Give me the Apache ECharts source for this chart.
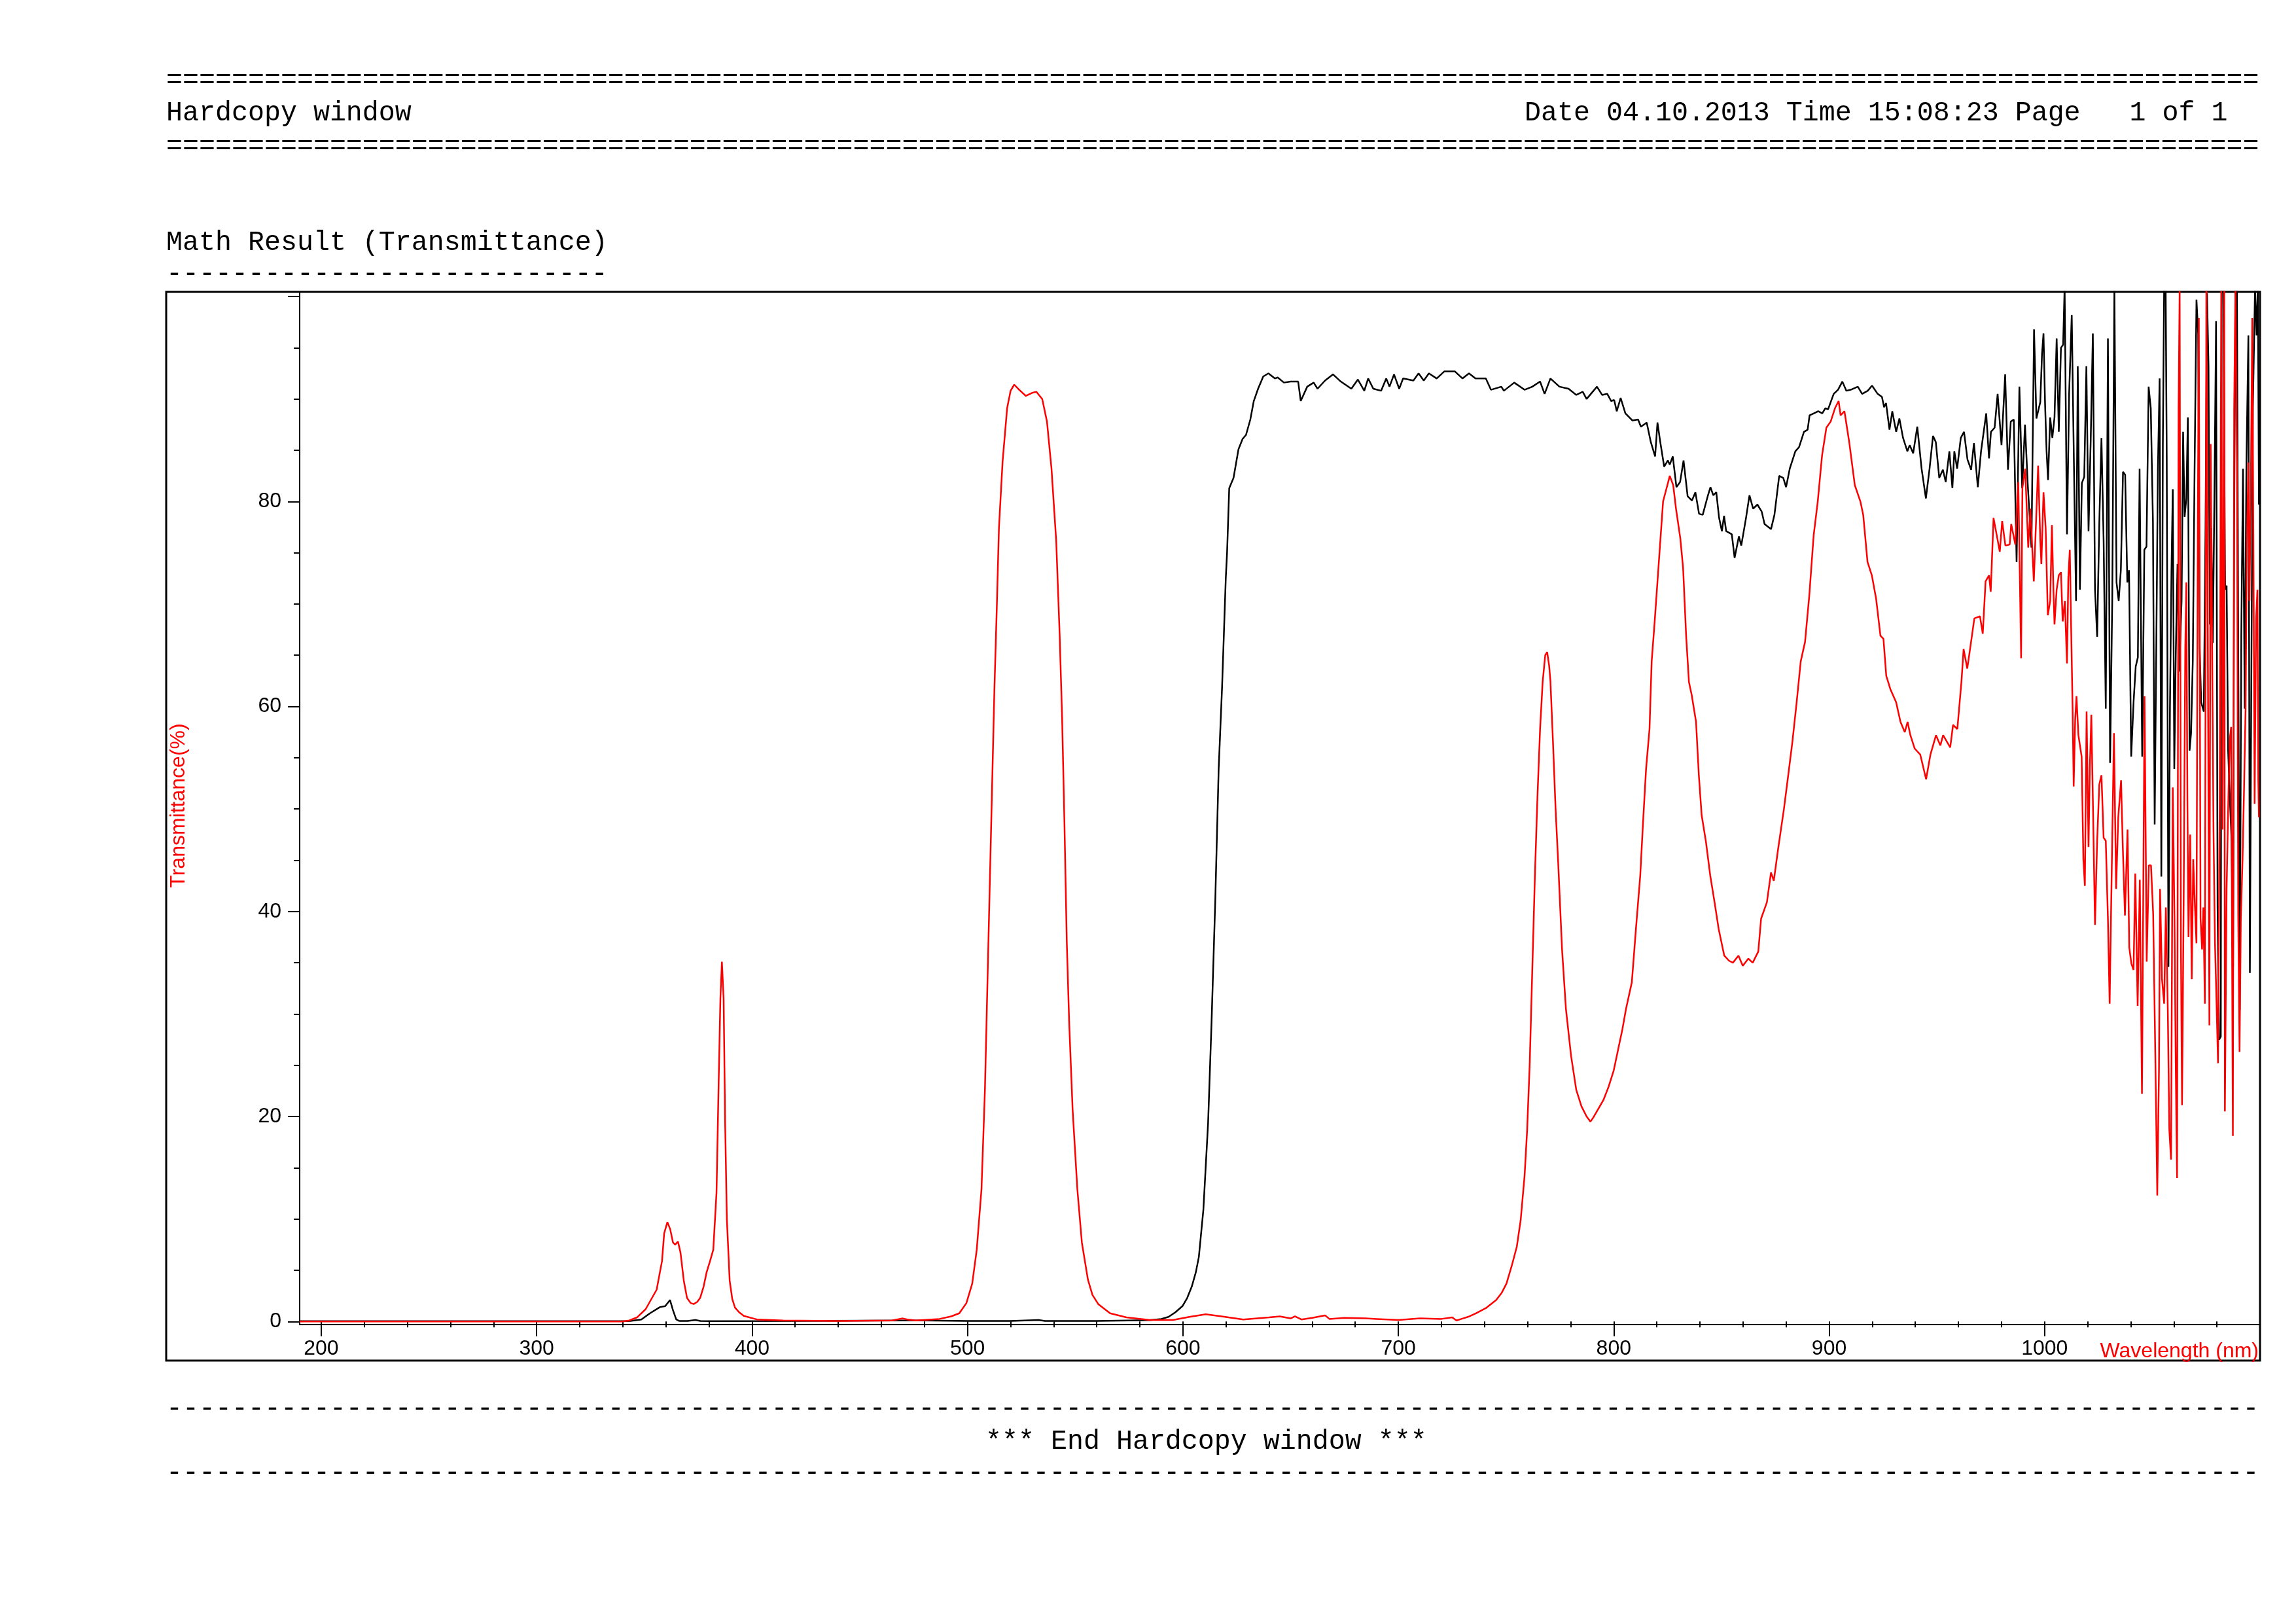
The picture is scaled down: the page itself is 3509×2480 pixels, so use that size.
<!DOCTYPE html>
<html>
<head>
<meta charset="utf-8">
<title>Math Result (Transmittance)</title>
<script src="https://cdn.jsdelivr.net/npm/echarts@6.0.0/dist/echarts.min.js"></script>
<style>
  html, body { margin: 0; padding: 0; background: #fff; }
  #chart { width: 3509px; height: 2480px; }
</style>
</head>
<body>
<div id="chart"></div>
<script>
// black trace (wavelength nm / transmittance %)
var blackNm = [190, 300, 340, 343.5, 348.6, 352.6, 357.2, 359.7, 361.9, 363.3, 364.8, 366.3, 370, 373.7, 376, 380, 420, 470, 480, 500, 520, 533, 536, 560,
  584.6, 590, 593.3, 596.5, 599.8, 602, 604.1, 606, 607.4, 609.5, 611.7, 613.3, 615, 616.6, 618.2, 619.9, 620.5, 621.5, 623.5, 625.8, 627.7, 629.3, 631.3, 632.9, 634.9, 637.3, 639.7, 642.7, 644, 646.9, 650, 653.5, 654.7, 657.7, 660.7, 662.5, 666, 669.7, 673.3, 678.2, 681.2, 684.2, 686, 688.4, 692, 694.4, 695.9, 698, 700.4, 702.2, 707, 709.4, 711.8, 714.2, 717.8, 721.4, 726.2, 729.8, 732.8, 735.8, 740.6, 743, 747.8, 749, 753.8, 758.6, 762.2, 765.8, 767.9, 770.6, 774.8, 779, 782.6, 785.6, 787.4, 792.2, 794.6, 797, 798.8,
  800.2, 801.4, 803.2, 805.4, 808.7, 811.3, 812.6, 815.3, 817.2, 819.2, 820.3, 821.6, 823.4, 825.1, 826, 827.4, 829.1, 830.8, 832.4, 834.3, 836.3, 837.9, 839.6, 841.3, 843.6, 844.9, 846.2, 847.6, 848.9, 850.2, 851.2, 852.2, 854.8, 856.1, 858.1, 859.2, 861.4, 863, 864.7, 866.7, 868.7, 870, 873, 874.6, 876.8, 878.7, 880, 881.7, 884.3, 886, 888.3, 890, 890.9, 892.9, 894.9, 896.8, 898.2, 899.5,
  902.1, 904.1, 906.1, 908, 910, 913.3, 915.3, 917.9, 919.9, 922.5, 924.5, 925.5, 926.4, 928, 929.3, 931.1, 932.6, 934.3, 936.3, 937.4, 939, 940.9, 942.9, 944.9, 946.6, 948.2, 949.5, 951.1, 952.8, 954.1, 955.8, 957.2, 958.1, 959.4, 961.1, 962.6, 964.2, 965.9, 967.2, 969, 970.5, 972.9, 974.2, 975.1, 976.8, 978.2, 980, 981.7, 983, 984.3, 985.7, 987, 988.3, 989.6, 990.9, 992.2, 993.9, 995.1, 996.2, 998, 998.8, 999.5,
  1000.2, 1000.9, 1001.6, 1002.6, 1003.6, 1004.6, 1005.6, 1006.6, 1007.6, 1008.6, 1009.3, 1009.9, 1010.4, 1011.4, 1012.6, 1013.6, 1014.6, 1015.4, 1016.4, 1017.3, 1018.4, 1019.4, 1020.4, 1021.4, 1022.4, 1023.4, 1024.4, 1025.4, 1026.4, 1027.4, 1028.4, 1029.4, 1030.4, 1031.4, 1032.4, 1033.4, 1034.4, 1035.4, 1036.4, 1037.4, 1038.4, 1039.2, 1040.2, 1041.3, 1042.3, 1043.3, 1044.1, 1045.3, 1046.3, 1047.3, 1048.3, 1049.3,
  1050.3, 1051.1, 1051.8, 1052.6, 1053.4, 1054.2, 1054.9, 1055.5, 1056.2, 1056.7, 1057.5, 1058.2, 1058.9, 1059.5, 1060.2, 1060.9, 1061.7, 1062.5, 1063.6, 1064.3, 1065, 1065.8, 1066.5, 1067.3, 1068, 1068.8, 1069.6, 1070.5, 1071.3, 1072, 1072.7, 1073.9, 1074.7, 1075.4, 1076.1, 1076.7, 1077.4, 1078.1, 1078.9, 1079.6, 1080.3, 1081, 1081.8, 1082.2, 1083, 1083.8, 1084.5, 1085.2, 1086, 1086.8, 1087.5, 1088, 1088.6, 1089.3, 1089.9, 1090.6, 1091.3, 1092.1, 1092.9, 1093.7, 1094.6, 1095.3, 1095.9, 1096.7, 1097.7, 1098.4, 1099, 1099.5];
var blackT = [0.03, 0.03, 0.03, 0.05, 0.2, 0.8, 1.4, 1.5, 2.1, 1.1, 0.2, 0.05, 0.05, 0.15, 0.05, 0.03, 0.05, 0.1, 0.1, 0.05, 0.05, 0.15, 0.05, 0.05,
  0.13, 0.25, 0.45, 0.9, 1.5, 2.3, 3.4, 4.8, 6.3, 10.9, 19.4, 29.2, 40.9, 53.9, 62, 72.5, 75, 81.3, 82.3, 85.1, 86.1, 86.5, 88, 89.8, 91, 92.2, 92.5, 92, 92.1, 91.6, 91.7, 91.7, 89.8, 91.2, 91.6, 91, 91.8, 92.4, 91.7, 91, 91.9, 90.8, 92, 91, 90.8, 92, 91.2, 92.4, 91, 92, 91.8, 92.5, 91.8, 92.5, 92, 92.7, 92.7, 92, 92.5, 92, 92, 90.9, 91.2, 90.8, 91.6, 90.9, 91.2, 91.7, 90.5, 92, 91.2, 91, 90.4, 90.7, 90, 91.2, 90.4, 90.5, 89.8,
  89.9, 88.8, 90.1, 88.6, 87.9, 88, 87.3, 87.7, 85.8, 84.4, 87.7, 85.8, 83.4, 84, 83.6, 84.4, 81.4, 81.9, 84, 80.5, 80.1, 80.9, 78.8, 78.7, 80.5, 81.4, 80.6, 80.9, 78.4, 77.1, 78.6, 77.1, 76.8, 74.5, 76.6, 75.7, 78.4, 80.6, 79.3, 79.7, 79, 77.8, 77.3, 78.7, 82.5, 82.3, 81.4, 83.2, 84.9, 85.3, 86.8, 87, 88.4, 88.6, 88.8, 88.6, 89.1, 89,
  90.5, 90.9, 91.7, 90.8, 90.9, 91.2, 90.5, 90.8, 91.3, 90.5, 90.2, 89.2, 89.6, 87, 88.8, 86.8, 88.1, 86.2, 84.9, 85.5, 84.7, 87.3, 83.2, 80.3, 83.2, 86.4, 85.8, 82.3, 83.1, 81.9, 84.9, 81.3, 84.9, 83.2, 86.2, 86.8, 84.1, 83.1, 85.7, 81.4, 84.9, 88.6, 84.2, 86.8, 87.2, 90.5, 85.5, 92.4, 83.1, 87.8, 88, 74.1, 91.2, 81.3, 87.5, 81.6, 75.5, 96.8, 88.1, 89.7, 94.4, 96.4,
  89.7, 85, 82.1, 88.2, 86.2, 88.2, 95.9, 86.8, 95, 95.3, 101, 101, 76.8, 90.6, 98.2, 83.9, 70.3, 93.2, 71.4, 81.8, 82.4, 93.2, 77.1, 85.9, 96.4, 71.4, 66.8, 78, 86.2, 76.2, 59.8, 95.9, 54.5, 70.3, 101, 72.1, 70.3, 73.3, 82.9, 82.6, 72.1, 73.3, 55.1, 60.4, 63.9, 64.8, 83.2, 55.1, 75.3, 75.6, 91.2, 89.1,
  78, 48.5, 64.5, 83.2, 92, 43.4, 85.6, 101, 101, 84.4, 34.6, 59.8, 73.3, 81.2, 53.9, 65.1, 73.9, 63.4, 70.3, 86.8, 78.5, 80.3, 88.2, 55.7, 57.4, 64.5, 82.6, 99.7, 96.4, 65.6, 60.4, 59.5, 77.4, 100.3, 93.2, 68, 77.4, 66.2, 82.1, 97.6, 40.4, 27.5, 27.8, 101, 101, 71.4, 71.8, 55.7, 51, 46.9, 34.6, 77.4, 101, 101, 65.6, 30.4, 66.8, 83.2, 59.8, 83.9, 96.2, 34, 59.8, 89.1, 101, 96.2, 101, 79.7];

// red trace (wavelength nm / transmittance %)
var redNm = [190, 250, 300, 340, 343, 346.6, 350.6, 355.7, 358.2, 359.2, 360.7, 362, 363.3, 364.3, 365.6, 366.8, 368.3, 369.8, 371.5, 372.9, 374.5, 375.9, 377.5, 378.9, 380.5, 382, 383.5, 384.5, 385.3, 386, 386.8, 387.5, 388.3, 389.6, 390.8, 392.1, 394, 396.2, 402.2, 414.4, 440, 465, 470, 472, 476,
  487, 492.4, 496.2, 499.5, 502.2, 504.3, 506.5, 508.1, 509.2, 510.3, 511.4, 512.5, 513.6, 514.6, 516.3, 518.4, 520, 521.7, 524, 527.1, 530, 532, 534.7, 536.9, 539, 541.2, 542.8, 543.9, 545, 546.1, 547.2, 548.8, 551, 553.1, 555.9, 558, 560.7, 566.2, 573.8, 584.6, 595.4, 603, 610.6, 618, 628, 640, 645,
  650, 652, 655, 660, 666, 668, 675, 685, 690, 700, 710, 720, 725, 727, 730, 733, 736, 740.6, 745.4, 748, 750.2, 752.6, 755, 756.8, 758.6, 759.8, 761, 762.2, 763.4, 764.6, 765.8, 767, 768.2, 769.1, 770, 770.6, 771.8, 773, 774.2, 776, 777.8, 780.2, 782.6, 785, 787.4, 789.2, 790.5, 791.6, 795.2, 797.6,
  800, 802, 804, 805.7, 808.4, 810.3, 812.3, 813.6, 815, 816.6, 817.6, 819, 820.3, 821.6, 822.9, 824.9, 826, 827.6, 828.9, 830.9, 832.2, 833.6, 834.9, 836.2, 838.2, 839.5, 840.8, 842.8, 844.8, 846.8, 848.7, 851.3, 853.5, 855.3, 857.9, 859.9, 862.5, 864.5, 867.1, 868.4, 871.1, 873, 874.3, 876.3, 879, 881, 882.9, 884.9, 886.8, 888.8, 890.8, 892.8, 894.7, 896.7, 898.7,
  900.7, 902.7, 904.4, 905.3, 907.1, 909.3, 911.9, 914.5, 915.8, 917.8, 919.8, 921.8, 923.8, 925.2, 926.5, 928.4, 931.1, 933.1, 935.1, 936.4, 937.7, 939.7, 942.3, 945, 947, 949.6, 951.6, 952.9, 956.2, 957.5, 959.5, 961.4, 962.4, 964.1, 965.4, 967.4, 970, 971.3, 972.6, 974.2, 975, 976.3, 979.2, 980.3, 981.8, 983.8, 984.5, 986.4, 987.8, 989.1, 989.7, 991, 992.4, 993.4, 995, 997, 998, 998.5, 999.5,
  1000.5, 1001.5, 1002.6, 1003.4, 1004.1, 1004.6, 1005.6, 1006.6, 1007.6, 1008.4, 1009.4, 1010.4, 1011, 1011.7, 1012.4, 1013, 1013.5, 1014.2, 1014.8, 1015.7, 1017.2, 1018, 1018.7, 1019.5, 1020.4, 1021, 1021.7, 1022.4, 1023.4, 1024.4, 1025.4, 1026.4, 1027.4, 1028.4, 1029.4, 1030.2, 1031.2, 1032.2, 1033.2, 1034.2, 1035.5, 1036.3, 1037.3, 1038.5, 1039.3, 1040.3, 1041.3, 1042.1, 1043.2, 1044.2, 1045.2, 1046.4, 1047.4, 1048.4, 1049.4,
  1050.4, 1051.4, 1052.3, 1053.1, 1053.6, 1054.5, 1055.5, 1056.3, 1057.2, 1057.9, 1058.7, 1059.5, 1060.3, 1060.9, 1061.5, 1062.2, 1062.7, 1063.3, 1063.8, 1064.6, 1065.3, 1065.8, 1066.3, 1066.8, 1067.6, 1068.3, 1069, 1069.8, 1070.5, 1071.1, 1071.6, 1072.4, 1073.1, 1073.7, 1074.4, 1075.1, 1075.7, 1076.5, 1077.1, 1077.7, 1078.4, 1079.1, 1079.9, 1080.5, 1081.3, 1082, 1082.6, 1083.4, 1083.7, 1084.5, 1085.3, 1086, 1086.6, 1087.4, 1088, 1088.6, 1089.3, 1089.9, 1090.5, 1091.1, 1091.9, 1092.6, 1093.3, 1093.9, 1094.6, 1095.1, 1095.7, 1096.4, 1096.9, 1097.5, 1098.2, 1098.8, 1099.2, 1099.5];
var redT = [0, 0, 0, 0, 0.1, 0.4, 1.2, 3.1, 5.9, 8.6, 9.7, 9, 7.7, 7.5, 7.8, 6.7, 4, 2.3, 1.8, 1.7, 1.9, 2.3, 3.4, 4.8, 5.9, 7, 12.6, 23.4, 31.5, 35.1, 31.5, 19.4, 10, 4, 2.2, 1.35, 0.9, 0.55, 0.2, 0.1, 0.05, 0.1, 0.3, 0.2, 0.1,
  0.25, 0.5, 0.8, 1.8, 3.7, 7, 12.9, 22.6, 32.4, 42.2, 52, 61.7, 69.6, 77.4, 83.9, 89.1, 90.8, 91.4, 90.9, 90.3, 90.6, 90.7, 90, 87.8, 83.2, 76.1, 66.9, 59.1, 48.7, 37, 29.2, 20.7, 12.9, 7.7, 4.1, 2.6, 1.7, 0.8, 0.4, 0.15, 0.15, 0.45, 0.7, 0.5, 0.2, 0.4, 0.5,
  0.3, 0.5, 0.2, 0.35, 0.6, 0.25, 0.35, 0.3, 0.25, 0.15, 0.3, 0.25, 0.4, 0.1, 0.3, 0.5, 0.8, 1.3, 2.1, 2.8, 3.7, 5.4, 7.3, 9.9, 14.2, 18.7, 25.2, 34.4, 43.5, 51.3, 57.8, 62.4, 65, 65.3, 64, 62.5, 56.5, 50, 44.8, 36.3, 30.5, 25.9, 22.6, 21, 20, 19.5, 19.9, 20.3, 21.6, 22.9,
  24.5, 26.5, 28.5, 30.5, 33.1, 38.3, 43.5, 48.7, 53.9, 57.8, 64.4, 68.3, 72.2, 76.1, 80, 81.6, 82.5, 81.6, 79.3, 76.4, 73.5, 66.9, 62.4, 61.1, 58.5, 53.3, 49.4, 46.8, 43.5, 40.9, 38.3, 35.7, 35.2, 35, 35.7, 34.7, 35.4, 35, 36.1, 39.3, 40.9, 43.8, 43, 46.1, 50, 53.3, 56.5, 60.4, 64.4, 66.3, 70.9, 76.7, 80, 84.5, 87.2,
  87.8, 89.1, 89.8, 88.4, 88.8, 85.8, 81.6, 80, 78.7, 74.1, 72.8, 70.5, 66.9, 66.6, 63, 61.7, 60.4, 58.5, 57.5, 58.5, 57.2, 55.9, 55.3, 52.9, 55.3, 57.2, 56.2, 57.2, 56, 58.2, 57.8, 62.4, 65.6, 63.7, 65.6, 68.6, 68.8, 67.1, 72.2, 72.8, 71.2, 78.4, 75.1, 78.1, 75.7, 75.8, 77.8, 75.8, 81.9, 64.7, 81.3, 83.2, 75.5, 79.3, 72.2, 83.5, 76.2, 73.9, 80.9,
  77.4, 68.9, 70.3, 77.7, 71.4, 68, 71.4, 72.8, 73.1, 68.3, 70.3, 64.2, 72.5, 75.3, 66.8, 59.8, 52.2, 58.7, 61, 57.2, 55.1, 45.1, 42.5, 59.5, 46.3, 54, 59.2, 51, 38.7, 46.9, 52.4, 53.3, 47.2, 46.9, 39.3, 31, 44.5, 57.4, 42.2, 49.2, 52.8, 46.3, 39.6, 48, 36.5, 34.9, 34.3, 43.7, 30.8, 43.1, 22.2, 61, 35.1, 44.5, 44.5,
  39.8, 26, 12.3, 24.6, 42.2, 33.4, 31, 40.4, 30.4, 18.7, 15.8, 52.1, 39.3, 24.6, 14, 89.1, 101, 36.3, 21.1, 42.2, 65.6, 72.1, 50.9, 37.5, 47.5, 33.4, 45.1, 40.4, 36.9, 76.2, 97.9, 39.3, 36.3, 40.4, 31, 101, 101, 28.9, 85.6, 68, 48, 36.9, 30.4, 25.2, 50.9, 101, 48, 101, 20.5, 42.2, 50.9, 56.9, 58, 18.1, 89.1, 101, 83.8, 39.3, 26.3, 39.3, 45.1, 52.1, 59.8, 75.7, 83.8, 70.3, 80.3, 97.9, 77.4, 50.5, 68.6, 71.4, 52.8, 49.2];

// axis ticks
var xLabelTicks = [200, 300, 400, 500, 600, 700, 800, 900, 1000];
var xMinorTicks = [200, 220, 240, 260, 280, 300, 320, 340, 360, 380, 400, 420, 440, 460, 480, 500, 520, 540, 560, 580, 600,
  620, 640, 660, 680, 700, 720, 740, 760, 780, 800, 820, 840, 860, 880, 900, 920, 940, 960, 980, 1000, 1020, 1040, 1060, 1080];
var yMajorTicks = [0, 20, 40, 60, 80, 100];
var yLabelTicks = [0, 20, 40, 60, 80];
var yMinorTicks = [5, 10, 15, 25, 30, 35, 45, 50, 55, 65, 70, 75, 85, 90, 95];

function zip(xs, ys) {
  var out = [];
  for (var i = 0; i < xs.length; i++) out.push([xs[i], ys[i]]);
  return out;
}

var mono = "'Liberation Mono', 'Courier New', monospace";
var sans = "'Liberation Sans', Arial, sans-serif";
var X0 = 254, X1 = 3454;

function monoText(str, x, y) {
  return {
    type: 'text', x: x, y: y, silent: true,
    style: { text: str, fill: '#000', font: '41.65px ' + mono, textAlign: 'left', textVerticalAlign: 'middle' }
  };
}

var chart = echarts.init(document.getElementById('chart'), null, { renderer: 'canvas' });

var option = {
  backgroundColor: '#fff',
  animation: false,
  grid: { left: 458, top: 446, width: 2996, height: 1578 },
  xAxis: [{
    type: 'value', min: 190, max: 1100,
    splitLine: { show: false },
    axisLine: { show: true, onZero: false, lineStyle: { color: '#000', width: 2 } },
    axisTick: { show: true, length: 18, customValues: xLabelTicks, lineStyle: { color: '#000', width: 2 } },
    axisLabel: {
      show: true, customValues: xLabelTicks, margin: 21, color: '#000', fontFamily: sans, fontSize: 32,
      formatter: function (v) { return String(v); }
    }
  }, {
    type: 'value', min: 190, max: 1100, position: 'bottom',
    splitLine: { show: false },
    axisLine: { show: false },
    axisTick: { show: true, length: 9, customValues: xMinorTicks, lineStyle: { color: '#000', width: 2 } },
    axisLabel: { show: false }
  }],
  yAxis: [{
    type: 'value', min: -0.3, max: 100.45,
    splitLine: { show: false },
    axisLine: { show: true, onZero: false, lineStyle: { color: '#000', width: 2 } },
    axisTick: { show: true, length: 18, customValues: yMajorTicks, lineStyle: { color: '#000', width: 2 } },
    axisLabel: {
      show: true, customValues: yLabelTicks, margin: 28, color: '#000', fontFamily: sans, fontSize: 32,
      formatter: function (v) { return String(v); }
    }
  }, {
    type: 'value', min: -0.3, max: 100.45, position: 'left',
    splitLine: { show: false },
    axisLine: { show: false },
    axisTick: { show: true, length: 9, customValues: yMinorTicks, lineStyle: { color: '#000', width: 2 } },
    axisLabel: { show: false }
  }],
  series: [{
    name: 'black', type: 'line', xAxisIndex: 0, yAxisIndex: 0,
    data: zip(blackNm, blackT), showSymbol: false, clip: true,
    lineStyle: { color: '#000', width: 2.5 }, itemStyle: { color: '#000' }
  }, {
    name: 'red', type: 'line', xAxisIndex: 0, yAxisIndex: 0,
    data: zip(redNm, redT), showSymbol: false, clip: true,
    lineStyle: { color: '#ff0000', width: 2.5 }, itemStyle: { color: '#ff0000' }
  }],
  graphic: [
    monoText('='.repeat(128), X0, 123),
    monoText('Hardcopy window', X0, 173),
    monoText('Date 04.10.2013 Time 15:08:23 Page   1 of 1', 2330, 173),
    monoText('='.repeat(128), X0, 224),
    monoText('Math Result (Transmittance)', X0, 371),
    monoText('-'.repeat(27), X0, 419),
    {
      type: 'rect', silent: true,
      shape: { x: X0, y: 446, width: X1 - X0, height: 2079 - 446 },
      style: { fill: 'none', stroke: '#000', lineWidth: 3 }
    },
    {
      type: 'text', x: 273, y: 1231, rotation: Math.PI / 2, silent: true,
      style: { text: 'Transmittance(%)', fill: '#ff0000', font: '32px ' + sans, textAlign: 'center', textVerticalAlign: 'middle' }
    },
    {
      type: 'text', x: 3452, y: 2065, silent: true,
      style: { text: 'Wavelength (nm)', fill: '#ff0000', font: '32px ' + sans, textAlign: 'right', textVerticalAlign: 'middle' }
    },
    monoText('-'.repeat(128), X0, 2153),
    monoText('*** End Hardcopy window ***', 1506, 2203),
    monoText('-'.repeat(128), X0, 2251)
  ]
};

chart.setOption(option);
</script>
</body>
</html>
